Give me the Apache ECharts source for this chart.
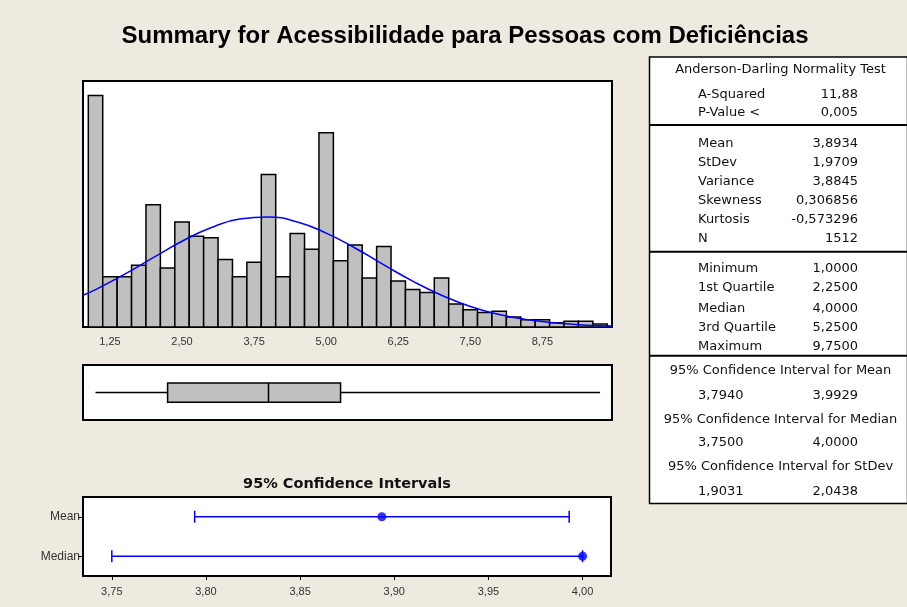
<!DOCTYPE html>
<html>
<head>
<meta charset="utf-8">
<script src="https://cdn.jsdelivr.net/npm/echarts@6/dist/echarts.min.js"></script>
<style>html,body{margin:0;padding:0;background:#EEEAE0;}#c{width:907px;height:607px;}</style>
</head>
<body>
<div id="c"></div>
<script>
// ---------- data ----------
const chartTitle = 'Summary for Acessibilidade para Pessoas com Deficiências';
const ciTitle = '95% Confidence Intervals';
const binWidth = 0.25;
const binMids = [1.00,1.25,1.50,1.75,2.00,2.25,2.50,2.75,3.00,3.25,3.50,3.75,4.00,4.25,4.50,4.75,5.00,5.25,5.50,5.75,6.00,6.25,6.50,6.75,7.00,7.25,7.50,7.75,8.00,8.25,8.50,8.75,9.00,9.25,9.50,9.75];
const binCounts = [161,35,35,43,85,41,73,63,62,47,35,45,106,35,65,54,135,46,57,34,56,32,26,24,34,16,12,10,11,7,5,5,3,4,4,2];
const curveX = [0.783,1.0,1.5,2.0,2.5,3.0,3.5,4.0,4.5,5.0,5.5,6.0,6.5,7.0,7.5,8.0,8.5,9.0,9.5,9.957];
const curveY = [22.1,26.0,36.6,48.2,59.6,69.0,75.0,76.4,73.0,65.3,54.9,43.2,31.9,22.1,14.3,8.7,5.0,2.7,1.3,0.7];
const histTickValues = [1.25,2.50,3.75,5.00,6.25,7.50,8.75];
const histTickLabels = ['1,25','2,50','3,75','5,00','6,25','7,50','8,75'];
const boxStats = [1.0, 2.25, 4.0, 5.25, 9.75]; // min, Q1, median, Q3, max
const ciCategories = ['Median','Mean'];
const ciLow = [3.75, 3.7940];
const ciHigh = [4.00, 3.9929];
const ciEst = [4.00, 3.8934];
const ciTickValues = [3.75,3.80,3.85,3.90,3.95,4.00];
const ciTickLabels = ['3,75','3,80','3,85','3,90','3,95','4,00'];
const adHeader = 'Anderson-Darling Normality Test';
const adRows = [['A-Squared','11,88'],['P-Value <','0,005']];
const descRows = [['Mean','3,8934'],['StDev','1,9709'],['Variance','3,8845'],['Skewness','0,306856'],['Kurtosis','-0,573296'],['N','1512']];
const quartRows = [['Minimum','1,0000'],['1st Quartile','2,2500'],['Median','4,0000'],['3rd Quartile','5,2500'],['Maximum','9,7500']];
const ciRows = [['95% Confidence Interval for Mean','3,7940','3,9929'],['95% Confidence Interval for Median','3,7500','4,0000'],['95% Confidence Interval for StDev','1,9031','2,0438']];

// ---------- layout ----------
const TF = 'DejaVu Sans, Liberation Sans, sans-serif';
const AF = 'Liberation Sans, Arial, sans-serif';
const chart = echarts.init(document.getElementById('c'), null, {renderer:'canvas'});

const graphics = [];
graphics.push({type:'text', x:465, y:36, style:{text:chartTitle, font:'bold 24px Liberation Sans, Arial, sans-serif', fill:'#000', textAlign:'center', textVerticalAlign:'middle'}});
graphics.push({type:'text', x:347, y:484, style:{text:ciTitle, font:'bold 14.5px DejaVu Sans, sans-serif', fill:'#111', textAlign:'center', textVerticalAlign:'middle'}});
// table frame
graphics.push({type:'rect', shape:{x:649.5, y:57, width:258, height:446.5}, style:{fill:'#fff', stroke:'#000', lineWidth:1.5}});
[125, 251.7, 355.7].forEach(y => graphics.push({type:'line', shape:{x1:649.5, y1:y, x2:907, y2:y}, style:{stroke:'#000', lineWidth:2}}));
const LX = 698, VX = 858, CX = 780.5;
function txt(s, x, y, align){ graphics.push({type:'text', x:x, y:y, style:{text:s, font:'13px ' + TF, fill:'#111', textAlign:align, textVerticalAlign:'middle'}}); }
txt(adHeader, CX, 70, 'center');
const adY = [94.3, 112.3];
adRows.forEach((r,i)=>{ txt(r[0], LX, adY[i], 'left'); txt(r[1], VX, adY[i], 'right'); });
const descY = [143.3,162.3,181.3,200.3,219.3,238.3];
descRows.forEach((r,i)=>{ txt(r[0], LX, descY[i], 'left'); txt(r[1], VX, descY[i], 'right'); });
const quartY = [268.3,287.7,308.3,327.3,346.7];
quartRows.forEach((r,i)=>{ txt(r[0], LX, quartY[i], 'left'); txt(r[1], VX, quartY[i], 'right'); });
const ciHY = [370.7, 419.3, 466.7], ciVY = [395.7, 442.3, 491.7];
ciRows.forEach((r,i)=>{ txt(r[0], CX, ciHY[i], 'center'); txt(r[1], LX, ciVY[i], 'left'); txt(r[2], VX, ciVY[i], 'right'); });

const frame = {show:true, backgroundColor:'#fff', borderColor:'#000', borderWidth:2};

const option = {
  backgroundColor:'#EEEAE0',
  animation:false,
  grid:[
    Object.assign({left:83, top:81, width:529, height:246}, frame),
    Object.assign({left:83, top:365, width:529, height:55}, frame),
    Object.assign({left:83, top:497, width:528, height:79}, frame)
  ],
  xAxis:[
    {gridIndex:0, type:'value', min:0.783, max:9.957, axisLine:{show:false}, axisTick:{show:false}, splitLine:{show:false},
     axisLabel:{customValues:histTickValues, formatter:v=>histTickLabels[histTickValues.indexOf(v)] ?? '', fontSize:11, color:'#333', margin:9, fontFamily:AF}},
    {gridIndex:1, type:'value', min:0.783, max:9.957, show:false},
    {gridIndex:2, type:'value', min:3.7347, max:4.0151, axisLine:{show:true, lineStyle:{color:'#000', width:2}}, splitLine:{show:false},
     axisTick:{show:true, customValues:ciTickValues, length:4, lineStyle:{color:'#000', width:1}},
     axisLabel:{customValues:ciTickValues, formatter:v=>ciTickLabels[ciTickValues.indexOf(v)] ?? '', fontSize:11, color:'#333', margin:10, fontFamily:AF}}
  ],
  yAxis:[
    {gridIndex:0, type:'value', min:0, max:171, show:false},
    {gridIndex:1, type:'value', min:-1, max:1, show:false},
    {gridIndex:2, type:'category', data:ciCategories, axisLine:{show:true, lineStyle:{color:'#000', width:2}},
     axisTick:{show:true, alignWithLabel:true, length:5, lineStyle:{color:'#000'}},
     axisLabel:{fontSize:12, color:'#333', margin:3, fontFamily:AF}}
  ],
  graphic:graphics,
  series:[
    {type:'custom', xAxisIndex:0, yAxisIndex:0, clip:true,
     data:binMids.map((m,i)=>[m, binCounts[i]]),
     encode:{x:0, y:1},
     renderItem:(params, api)=>{
       const x = api.value(0), y = api.value(1);
       const p0 = api.coord([x - binWidth/2, y]);
       const p1 = api.coord([x + binWidth/2, 0]);
       return {type:'rect', shape:{x:p0[0], y:p0[1], width:p1[0]-p0[0], height:p1[1]-p0[1]},
               style:{fill:'#C0C0C0', stroke:'#000', lineWidth:1.5}};
     }},
    {type:'line', xAxisIndex:0, yAxisIndex:0, smooth:true, symbol:'none', clip:true, z:5,
     data:curveX.map((x,i)=>[x, curveY[i]]),
     lineStyle:{color:'#0000FF', width:1.5}},
    {type:'custom', xAxisIndex:1, yAxisIndex:1,
     data:[boxStats],
     encode:{x:[0,1,2,3,4]},
     renderItem:(params, api)=>{
       const mn = api.coord([api.value(0), 0]), q1 = api.coord([api.value(1), 0.35]), md = api.coord([api.value(2), 0]),
             q3 = api.coord([api.value(3), -0.35]), mx = api.coord([api.value(4), 0]);
       const ls = {stroke:'#000', lineWidth:1.5};
       return {type:'group', children:[
         {type:'line', shape:{x1:mn[0], y1:mn[1], x2:q1[0], y2:mn[1]}, style:ls},
         {type:'line', shape:{x1:q3[0], y1:mn[1], x2:mx[0], y2:mn[1]}, style:ls},
         {type:'rect', shape:{x:q1[0], y:q1[1], width:q3[0]-q1[0], height:q3[1]-q1[1]}, style:{fill:'#C0C0C0', stroke:'#000', lineWidth:1.5}},
         {type:'line', shape:{x1:md[0], y1:q1[1], x2:md[0], y2:q3[1]}, style:ls}
       ]};
     }},
    {type:'custom', xAxisIndex:2, yAxisIndex:2,
     data:ciCategories.map((c,i)=>[ciLow[i], ciHigh[i], i]),
     encode:{x:[0,1], y:2},
     renderItem:(params, api)=>{
       const a = api.coord([api.value(0), api.value(2)]), b = api.coord([api.value(1), api.value(2)]);
       const ls = {stroke:'#0000FF', lineWidth:1.5};
       return {type:'group', children:[
         {type:'line', shape:{x1:a[0], y1:a[1], x2:b[0], y2:b[1]}, style:ls},
         {type:'line', shape:{x1:a[0], y1:a[1]-6, x2:a[0], y2:a[1]+6}, style:ls},
         {type:'line', shape:{x1:b[0], y1:b[1]-6, x2:b[0], y2:b[1]+6}, style:ls}
       ]};
     }},
    {type:'scatter', xAxisIndex:2, yAxisIndex:2, symbol:'circle', symbolSize:9, z:5,
     data:ciCategories.map((c,i)=>[ciEst[i], i]),
     itemStyle:{color:'#0000FF'}}
  ]
};
chart.setOption(option);
</script>
</body>
</html>
